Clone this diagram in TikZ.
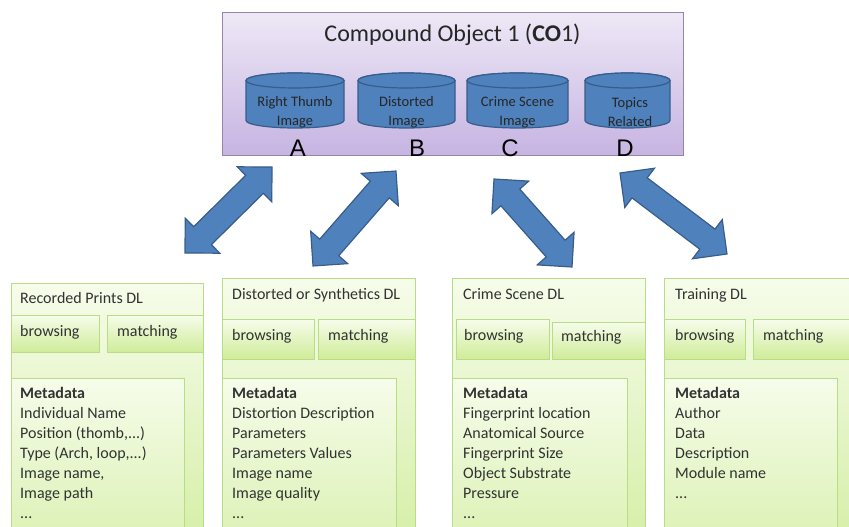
\documentclass[tikz,border=0pt]{standalone}
\usepackage{fontspec}
\setmainfont{Carlito}
\newfontfamily\letterfont{Liberation Sans}
\usetikzlibrary{shapes.arrows, positioning, calc}

\definecolor{coTop}{RGB}{238,232,246}
\definecolor{coBottom}{RGB}{198,180,226}
\definecolor{coBorder}{RGB}{150,135,170}
\definecolor{dbFill}{RGB}{79,129,189}
\definecolor{dbBorder}{RGB}{56,93,138}
\definecolor{dlTop}{RGB}{246,252,234}
\definecolor{dlBottom}{RGB}{206,236,152}
\definecolor{dlBorder}{RGB}{185,220,135}
\definecolor{txtGrey}{RGB}{50,50,50}

\tikzset{
  compound/.style={rectangle, draw=coBorder, line width=1pt, top color=coTop, bottom color=coBottom, anchor=north west, inner sep=0pt},
  database/.style={draw=dbBorder, line width=1.2pt, fill=dbFill},
  dbtext/.style={align=center, font=\fontsize{14.5}{19}\selectfont, text=black!85, inner sep=0pt},
  letter/.style={font=\letterfont\fontsize{24}{24}\selectfont, inner sep=0pt},
  dlbox/.style={rectangle, draw=dlBorder, line width=1pt, top color=dlTop, bottom color=dlBottom, anchor=north west, inner sep=0pt},
  dltext/.style={font=\fontsize{16}{20}\selectfont, text=txtGrey, inner sep=0pt, align=left},
  bigarrow/.style={double arrow, double arrow tip angle=90, double arrow head extend=12pt, minimum width=48pt, inner xsep=0pt, inner ysep=12pt, draw=dbBorder, line width=1.2pt, fill=dbFill}
}

\begin{document}
\begin{tikzpicture}[x=1pt, y=-1pt, node distance=10pt]
  \clip (0,0) rectangle (849,527);

  % compound object
  \node (co) [compound, minimum width=461pt, minimum height=143pt] at (222,12) {};
  \node (coTitle) [font=\fontsize{24}{28}\selectfont, text=black!85] at (452.5,35) {Compound Object 1 (\textbf{CO}1)};

  % the four databases (centre x / width)
  \foreach \cx/\w in {295/98, 406.5/97, 517.5/101, 627.5/85} {
    \draw [database] (\cx-\w/2,80.5) -- (\cx-\w/2,120.5)
      arc [start angle=180, end angle=360, x radius=\w/2*1pt, y radius=7.5pt]
      -- (\cx+\w/2,80.5)
      arc [start angle=0, end angle=180, x radius=\w/2*1pt, y radius=7.5pt] -- cycle;
    \draw [database] (\cx,80.5) ellipse [x radius=\w/2*1pt, y radius=7.5pt];
  }
  \node (txtA) [dbtext] at (295,112.5) {Right Thumb\\Image};
  \node (txtB) [dbtext] at (406.5,112.5) {Distorted\\Image};
  \node (txtC) [dbtext] at (517.5,112.5) {Crime Scene\\Image};
  \node (txtD) [dbtext] at (630,112.5) {Topics\\Related};
  \node (letA) [letter] at (298,148) {A};
  \node (letB) [letter] at (417,148) {B};
  \node (letC) [letter] at (510,148) {C};
  \node (letD) [letter] at (625,148) {D};

  % digital libraries
  \node (rec) [dlbox, minimum width=192pt, minimum height=317pt] at (11,283) {};
  \node (recBr) [dlbox, minimum width=88pt, minimum height=37pt] at (11,315) {};
  \node (recMa) [dlbox, minimum width=96pt, minimum height=37pt] at (107,315) {};
  \node (recMe) [dlbox, minimum width=173pt, minimum height=250pt] at (11,378) {};

  \node (dis) [dlbox, minimum width=193pt, minimum height=322pt] at (222,278) {};
  \node (disBr) [dlbox, minimum width=92pt, minimum height=40pt] at (222,319) {};
  \node (disMa) [dlbox, minimum width=97pt, minimum height=40pt] at (318,319) {};
  \node (disMe) [dlbox, minimum width=174pt, minimum height=250pt] at (222,378) {};

  \node (cri) [dlbox, minimum width=193pt, minimum height=322pt] at (452,278) {};
  \node (criBr) [dlbox, minimum width=93pt, minimum height=40pt] at (456,319) {};
  \node (criMa) [dlbox, minimum width=93pt, minimum height=37pt] at (552,322) {};
  \node (criMe) [dlbox, minimum width=175pt, minimum height=250pt] at (452,378) {};

  \node (tra) [dlbox, minimum width=200pt, minimum height=322pt] at (664,278) {};
  \node (traBr) [dlbox, minimum width=81pt, minimum height=40pt] at (664,319) {};
  \node (traMa) [dlbox, minimum width=110pt, minimum height=40pt] at (753,319) {};
  \node (traMe) [dlbox, minimum width=173pt, minimum height=250pt] at (664,378) {};

  % texts of the libraries
  \node (recT) [dltext, below right=20pt and 9pt of rec.north west, anchor=base west] {Recorded Prints DL};
  \node (recBrT) [dltext, below right=21pt and 9pt of recBr.north west, anchor=base west] {browsing};
  \node (recMaT) [dltext, below right=21pt and 10pt of recMa.north west, anchor=base west] {matching};
  \node (recMeT) [dltext, below right=9pt and 9pt of recMe.north west] {\textbf{Metadata}\\Individual Name\\Position (thomb,...)\\Type (Arch, loop,...)\\Image name,\\Image path\\...};

  \node (disT) [dltext, below right=21pt and 10pt of dis.north west, anchor=base west] {Distorted or Synthetics DL};
  \node (disBrT) [dltext, below right=21pt and 10pt of disBr.north west, anchor=base west] {browsing};
  \node (disMaT) [dltext, below right=21pt and 10pt of disMa.north west, anchor=base west] {matching};
  \node (disMeT) [dltext, below right=9pt and 10pt of disMe.north west] {\textbf{Metadata}\\Distortion Description\\Parameters\\Parameters Values\\Image name\\Image quality\\...};

  \node (criT) [dltext, below right=21pt and 11pt of cri.north west, anchor=base west] {Crime Scene DL};
  \node (criBrT) [dltext, below right=21pt and 8pt of criBr.north west, anchor=base west] {browsing};
  \node (criMaT) [dltext, below right=19pt and 9pt of criMa.north west, anchor=base west] {matching};
  \node (criMeT) [dltext, below right=9pt and 11pt of criMe.north west] {\textbf{Metadata}\\Fingerprint location\\Anatomical Source\\Fingerprint Size\\Object Substrate\\Pressure\\...};

  \node (traT) [dltext, below right=21pt and 11pt of tra.north west, anchor=base west] {Training DL};
  \node (traBrT) [dltext, below right=21pt and 11pt of traBr.north west, anchor=base west] {browsing};
  \node (traMaT) [dltext, below right=21pt and 10pt of traMa.north west, anchor=base west] {matching};
  \node (traMeT) [dltext, below right=9pt and 11pt of traMe.north west] {\textbf{Metadata}\\Author\\Data\\Description\\Module name\\...};

  % block arrows between the compound object and the libraries
  \coordinate (a1s) at (185,253); \coordinate (a1e) at (272,167);
  \coordinate (a2s) at (313,266); \coordinate (a2e) at (396,171);
  \coordinate (a3s) at (494,179); \coordinate (a3e) at (572,267);
  \coordinate (a4s) at (620,173); \coordinate (a4e) at (727,254);
  \foreach \k in {1,...,4}
    \path let \p1=($(a\k e)-(a\k s)$), \n1={atan2(\y1,\x1)}, \n2={veclen(\x1,\y1)} in
      node (arr\k) [bigarrow, rotate=\n1, minimum height={\n2*1pt}] at ($(a\k s)!0.5!(a\k e)$) {};
\end{tikzpicture}
\end{document}
